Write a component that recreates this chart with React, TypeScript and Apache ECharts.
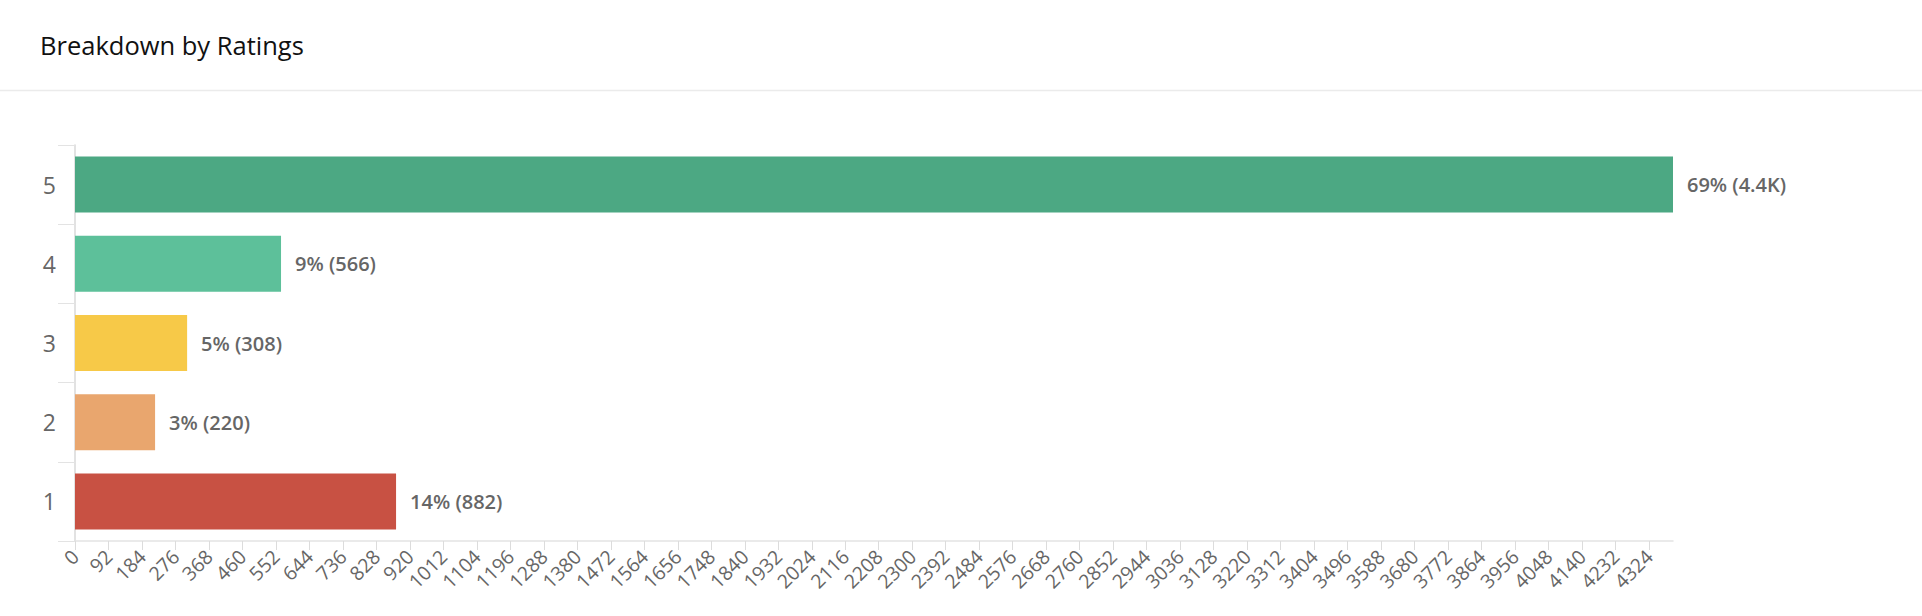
import React, { useEffect, useRef } from "react";
import * as echarts from "echarts";

const ratings = ["1", "2", "3", "4", "5"];
const counts = [882, 220, 308, 566, 4390];
const barColors = ["#c85143", "#e9a66e", "#f7c948", "#5dc09a", "#4ca883"];
const xTicks = [0, 92, 184, 276, 368, 460, 552, 644, 736, 828, 920, 1012, 1104, 1196, 1288, 1380, 1472, 1564, 1656, 1748, 1840, 1932, 2024, 2116, 2208, 2300, 2392, 2484, 2576, 2668, 2760, 2852, 2944, 3036, 3128, 3220, 3312, 3404, 3496, 3588, 3680, 3772, 3864, 3956, 4048, 4140, 4232, 4324];
const xMax = 4390;
const title = "Breakdown by Ratings";

const FONT = "'Open Sans', 'Noto Sans', sans-serif";

export default function App() {
  const ref = useRef<HTMLDivElement>(null);
  useEffect(() => {
    if (!ref.current) return;
    const chart = echarts.init(ref.current, null, { renderer: "svg" });
    const total = counts.reduce((a, b) => a + b, 0);
    const fmt = (v: number) => (v >= 1000 ? (v / 1000).toFixed(1) + "K" : String(v));
    chart.setOption({
      animation: false,
      backgroundColor: "#ffffff",
      title: {
        text: title,
        left: 35,
        top: 27,
        textStyle: { fontFamily: FONT, fontSize: 25.5, fontWeight: "normal", color: "#111" },
      },
      graphic: [
        {
          type: "line",
          shape: { x1: 0, y1: 90.5, x2: 1922, y2: 90.5 },
          style: { stroke: "#ebebeb", lineWidth: 1.5 },
        },
      ],
      grid: { left: 75, right: 249, top: 145, bottom: 75, containLabel: false },
      xAxis: {
        type: "value",
        min: 0,
        max: xMax,
        interval: 92,
        axisLine: { show: true, lineStyle: { color: "#e3e3e3", width: 1.5 } },
        axisTick: { show: true, length: 9, lineStyle: { color: "#dcdcdc" }, customValues: xTicks },
        axisLabel: {
          customValues: xTicks,
          rotate: 45,
          margin: 12,
          fontFamily: FONT,
          fontSize: 19.5,
          fontWeight: 500,
          color: "#666",
          formatter: (v: number) => String(v),
        },
        splitLine: { show: false },
      },
      yAxis: {
        type: "category",
        data: ratings,
        axisLine: { show: true, lineStyle: { color: "#d8d8d8", width: 1.5 } },
        axisTick: { show: true, length: 17, lineStyle: { color: "#e3e3e3" } },
        axisLabel: { margin: 19, fontFamily: FONT, fontSize: 23, fontWeight: 500, color: "#666" },
      },
      series: [
        {
          type: "bar",
          barWidth: 56,
          data: counts.map((v, i) => ({ value: v, itemStyle: { color: barColors[i] } })),
          label: {
            show: true,
            position: "right",
            distance: 14,
            fontFamily: FONT,
            fontSize: 20,
            fontWeight: 600,
            color: "#666",
            formatter: (p: any) => `${Math.round((p.value / total) * 100)}% (${fmt(p.value)})`,
          },
        },
      ],
    });
    return () => chart.dispose();
  }, []);
  return (
    <div
      ref={ref}
      style={{ position: "fixed", left: 0, top: 0, width: 1922, height: 616, background: "#fff" }}
    />
  );
}
